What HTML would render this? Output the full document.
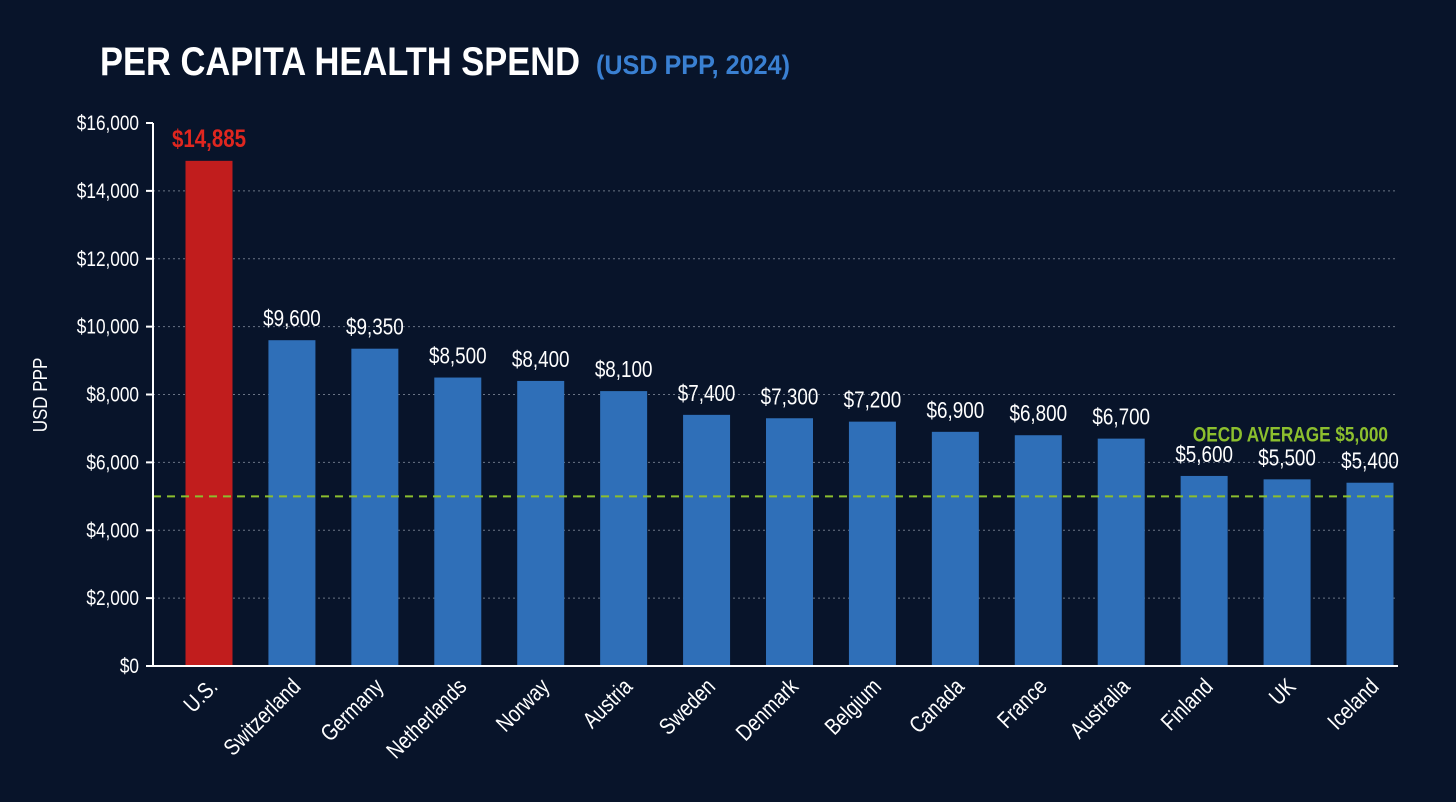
<!DOCTYPE html>
<html><head><meta charset="utf-8"><style>
html,body{margin:0;padding:0;background:#08142a;}
svg{display:block}
text{font-family:"Liberation Sans Narrow","Liberation Sans",sans-serif;}
</style></head><body>
<svg id="chart" width="1456" height="802" viewBox="0 0 1456 802">
<rect width="1456" height="802" fill="#08142a"/>
<text x="100" y="75" font-size="40" font-weight="bold" fill="#fff" textLength="480" lengthAdjust="spacingAndGlyphs">PER CAPITA HEALTH SPEND</text>
<text x="596" y="74" font-size="27" font-weight="bold" fill="#3a80d2" textLength="194" lengthAdjust="spacingAndGlyphs">(USD PPP, 2024)</text>
<text transform="translate(47,395) rotate(-90) scale(0.85,1)" text-anchor="middle" font-size="20" fill="#fff">USD PPP</text>
<g id="grid"></g><g id="bars"></g><g id="axes"></g>
</svg>
<script>
const categories=["U.S.","Switzerland","Germany","Netherlands","Norway","Austria","Sweden","Denmark","Belgium","Canada","France","Australia","Finland","UK","Iceland"];
const values=[14885,9600,9350,8500,8400,8100,7400,7300,7200,6900,6800,6700,5600,5500,5400];
const valueLabels=["$14,885","$9,600","$9,350","$8,500","$8,400","$8,100","$7,400","$7,300","$7,200","$6,900","$6,800","$6,700","$5,600","$5,500","$5,400"];
const yTicks=[0,2000,4000,6000,8000,10000,12000,14000,16000];
const yTickLabels=["$0","$2,000","$4,000","$6,000","$8,000","$10,000","$12,000","$14,000","$16,000"];
const oecdAverage=5000;
const oecdLabel="OECD AVERAGE $5,000";

const NS="http://www.w3.org/2000/svg";
const y0=666,yTop=123,yMax=16000,xLeft=153,xRight=1398,firstC=209,lastC=1370,barW=47,SX=0.82;
const y=v=>y0-(v/yMax)*(y0-yTop);
const x=i=>firstC+i*(lastC-firstC)/(categories.length-1);
function mk(tag,attrs,parent,txt){const e=document.createElementNS(NS,tag);for(const k in attrs)e.setAttribute(k,attrs[k]);if(txt!==undefined)e.textContent=txt;parent.appendChild(e);return e;}
const grid=document.getElementById('grid'),bars=document.getElementById('bars'),axes=document.getElementById('axes');
yTicks.forEach((t,i)=>{
  if(t>0&&t<yMax){const g=mk('line',{x1:xLeft,x2:xRight,y1:y(t),y2:y(t),stroke:'#6a7485','stroke-width':1,'stroke-dasharray':'2 3'},grid);
  
  }
  const tk=mk('line',{x1:xLeft-7,x2:xLeft,y1:y(t),y2:y(t),stroke:'#fff','stroke-width':2},axes);
  
  
  const l=mk('text',{transform:`translate(${xLeft-14},${y(t)+7}) scale(${SX},1)`,'text-anchor':'end','font-size':21,fill:'#fff'},axes,yTickLabels[i]);
  
  
});
const ya=mk('line',{x1:xLeft,x2:xLeft,y1:yTop,y2:y0,stroke:'#fff','stroke-width':2},axes);


const xa=mk('line',{x1:xLeft,x2:xRight,y1:y0,y2:y0,stroke:'#fff','stroke-width':2},axes);


categories.forEach((c,i)=>{
  const us=i===0;
  const r=mk('rect',{x:x(i)-barW/2,y:y(values[i]),width:barW,height:y0-y(values[i]),fill:us?'#c11d1d':'#2f6fb8'},bars);
  
  
  const vl=mk('text',{transform:`translate(${x(i)},${y(values[i])-14}) scale(${SX},1)`,'text-anchor':'middle','font-size':us?25:23,'font-weight':us?'bold':'normal',fill:us?'#e0261f':'#fff'},bars,valueLabels[i]);
  
  
  const xl=mk('text',{transform:`translate(${x(i)+10},${y0+22}) rotate(-45) scale(${SX},1)`,'text-anchor':'end','font-size':23,fill:'#fff'},axes,c);
  
  
});
const ol=mk('line',{x1:xLeft,x2:xRight,y1:y(oecdAverage),y2:y(oecdAverage),stroke:'#8cbf2e','stroke-width':2,'stroke-dasharray':'8 6'},bars);


const ot=mk('text',{transform:`translate(1388,${y(oecdAverage)-55}) scale(${SX},1)`,'text-anchor':'end','font-size':21,'font-weight':'bold',fill:'#8cbf2e'},bars,oecdLabel);


</script>
</body></html>
